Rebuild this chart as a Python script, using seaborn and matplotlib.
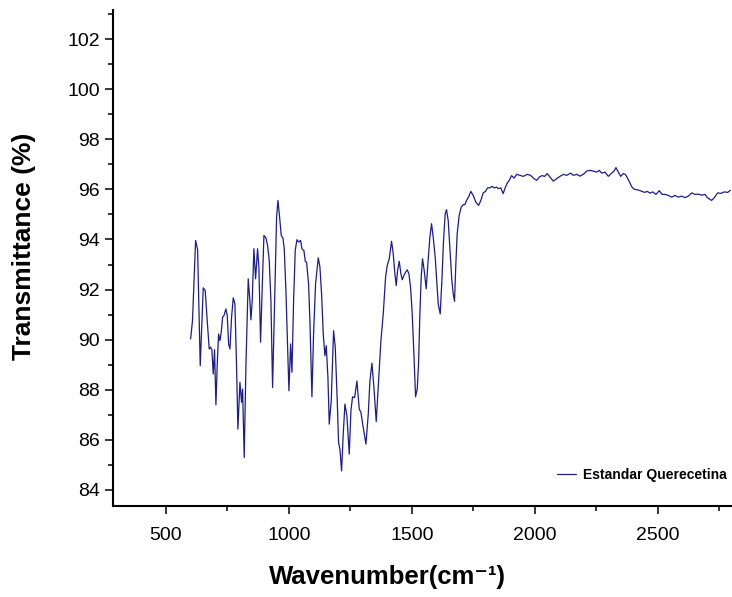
import matplotlib
matplotlib.use("Agg")
import matplotlib.pyplot as plt
import seaborn as sns
import pandas as pd
from matplotlib.ticker import MultipleLocator

# FTIR spectrum of the quercetin standard
wavenumber = [
    600.4, 608, 620.7, 628.8, 639.5, 651.7, 659.8, 667.9, 676, 681.4, 686.8, 692.3, 697.7,
    703.3, 708.7, 714.1, 719.5, 724.9, 730.4, 735.8, 743.9, 749.3, 754.8, 760.2, 766.9,
    773.7, 780.5, 787.2, 792.6, 800.8, 807.5, 811.6, 818.3, 825.1, 834.6, 841.3, 845.4,
    850.8, 857.6, 864.4, 872.5, 877.9, 884.7, 891.5, 898.4, 906.5, 913.3, 920, 926.8,
    933.6, 941.8, 949.9, 955.3, 962, 968.8, 975.6, 981, 987.8, 993.2, 1000, 1006.8,
    1012.2, 1019, 1025.7, 1032.5, 1039.3, 1047.4, 1052.8, 1060.9, 1066.4, 1071.8, 1079.9,
    1085.3, 1093.5, 1100.2, 1108.3, 1119.2, 1126, 1132.7, 1139.5, 1146.3, 1151.7, 1158.5,
    1163.9, 1172, 1181.5, 1188.3, 1196.4, 1201.8, 1207.3, 1214, 1220.8, 1227.6, 1235.7,
    1245.2, 1252, 1258.7, 1266.9, 1276.4, 1285.9, 1292.6, 1302.1, 1313, 1322.5, 1329.3,
    1337.4, 1345.5, 1354.9, 1364.4, 1373.9, 1383.4, 1392.9, 1399.6, 1407.7, 1417.2, 1424,
    1430.7, 1436.2, 1441.6, 1448.4, 1455.1, 1460.6, 1467.3, 1474.1, 1480.9, 1487.7, 1494.4,
    1501.2, 1508, 1514.7, 1521.5, 1526.9, 1532.3, 1537.7, 1543.1, 1549.9, 1558, 1564.8,
    1572.9, 1579.7, 1586.5, 1594.6, 1600, 1606.8, 1614.9, 1621.7, 1628.5, 1635.2, 1640.6,
    1647.4, 1654.2, 1662.3, 1667.7, 1673.1, 1678.5, 1683.9, 1692, 1700.2, 1708.3, 1715.1,
    1721.8, 1730, 1739.5, 1748.9, 1759.8, 1770.7, 1780.2, 1789.6, 1799.1, 1807.2, 1816.7,
    1826.2, 1834.3, 1843.8, 1851.9, 1861.4, 1870.9, 1879, 1887.1, 1895.3, 1905, 1915, 1926,
    1939, 1952.6, 1968.9, 1982.5, 1996, 2006.9, 2017.7, 2028.6, 2039.4, 2050, 2061.1,
    2074.7, 2088.3, 2101.8, 2115.4, 2128.9, 2145.2, 2156, 2169.6, 2183.1, 2196.7, 2210.2,
    2223.8, 2237.3, 2250.9, 2261.7, 2271.2, 2284.7, 2298.3, 2311.8, 2321.3, 2329.4, 2338.9,
    2348.4, 2359.2, 2367.3, 2375.5, 2383.6, 2393.1, 2402.6, 2413.4, 2424.3, 2435.1, 2446,
    2456.8, 2467.6, 2478.5, 2492, 2505.6, 2516.4, 2528.6, 2542.2, 2555.7, 2569.3, 2582.8,
    2596.4, 2609.9, 2623.5, 2637, 2650.6, 2664.1, 2677.7, 2691.2, 2700.7, 2718.3, 2729.1,
    2742.7, 2756.3, 2769.8, 2783.4, 2794.2,
]
transmittance = [
    90.03, 90.76, 93.96, 93.6, 88.96, 92.07, 91.96, 90.76, 89.63, 89.7, 89.6, 88.63, 89.6,
    87.4, 89.03, 90.23, 89.96, 90.3, 90.9, 90.96, 91.23, 90.96, 89.83, 89.63, 90.9,
    91.67, 91.43, 88.9, 86.43, 88.3, 87.5, 88.03, 85.3, 88.9, 92.43, 91.56, 90.79,
    91.56, 93.63, 92.43, 93.63, 92.9, 89.9, 92.1, 94.16, 94.06, 93.76, 93.16, 91.56,
    88.09, 91.56, 94.9, 95.56, 94.9, 94.16, 94.06, 93.63, 91.96, 90.23, 87.96, 89.83,
    88.7, 91.56, 93.56, 93.99, 93.9, 93.96, 93.63, 93.56, 93.13, 93.09, 92.23,
    90.76, 87.72, 90.23, 92.23, 93.27, 92.9, 91.83, 90.23, 89.36, 89.76, 88.49,
    86.63, 87.56, 90.36, 89.7, 87.56, 85.89, 85.63, 84.76, 86.23, 87.43, 86.96,
    85.43, 87.16, 87.72, 87.69, 88.35, 87.23, 87.1, 86.49, 85.83, 87.03, 88.36,
    89.06, 88.1, 86.73, 88.36, 89.96, 91.03, 92.5, 92.96, 93.23, 93.93, 93.43,
    92.63, 92.16, 92.76, 93.13, 92.63, 92.39, 92.56, 92.69, 92.79, 92.63, 92.09,
    91.03, 89.43, 87.72, 88.03, 89.03, 91.03, 92.49, 93.23, 92.76, 92.03, 93.03,
    94.09, 94.63, 94.09, 93.29, 92.49, 91.43, 91.03, 92.36, 93.96, 95.03, 95.19,
    94.76, 93.69, 92.36, 91.83, 91.53, 93.03, 94.23, 94.96, 95.29, 95.39, 95.39,
    95.56, 95.69, 95.92, 95.76, 95.49, 95.36, 95.56, 95.86, 95.92, 96.06, 96.06,
    96.12, 96.06, 96.09, 96.03, 96.06, 95.83, 96.06, 96.25, 96.36, 96.55, 96.45, 96.6,
    96.56, 96.52, 96.6, 96.56, 96.43, 96.36, 96.49, 96.55, 96.52, 96.63, 96.49,
    96.33, 96.43, 96.52, 96.6, 96.56, 96.65, 96.56, 96.6, 96.53, 96.6, 96.73,
    96.76, 96.73, 96.69, 96.76, 96.65, 96.69, 96.52, 96.65, 96.73, 96.87, 96.69,
    96.52, 96.63, 96.6, 96.47, 96.31, 96.11, 96.01, 95.99, 95.96, 95.92, 95.88,
    95.92, 95.85, 95.9, 95.8, 95.95, 95.8, 95.8, 95.76, 95.69, 95.76, 95.69,
    95.73, 95.67, 95.73, 95.86, 95.8, 95.81, 95.77, 95.8, 95.67, 95.56, 95.67,
    95.86, 95.84, 95.9, 95.88, 95.96,
]
series_name = "Estandar Querecetina"

df = pd.DataFrame({"Wavenumber": wavenumber, "Transmittance": transmittance,
                   "Sample": series_name})

sns.set_theme(style="ticks")
plt.rcParams["font.family"] = ["Liberation Sans", "DejaVu Sans"]
plt.rcParams.update({"text.color": "black", "axes.labelcolor": "black",
                     "xtick.color": "black", "ytick.color": "black"})

fig = plt.figure(figsize=(7.32, 5.97), dpi=100)
ax = fig.add_axes([0.1544, 0.1524, 0.8456, 0.8308])

sns.lineplot(data=df, x="Wavenumber", y="Transmittance", hue="Sample",
             palette=["#1c1c8c"], sort=False, estimator=None, lw=0.9, ax=ax)

ax.set_xlim(285, 2801)
ax.set_ylim(83.36, 103.16)
ax.xaxis.set_major_locator(MultipleLocator(500))
ax.xaxis.set_minor_locator(MultipleLocator(250))
ax.yaxis.set_major_locator(MultipleLocator(2))
ax.yaxis.set_minor_locator(MultipleLocator(1))

for side in ("top", "right"):
    ax.spines[side].set_visible(False)
for side in ("left", "bottom"):
    ax.spines[side].set_linewidth(1.5)
    ax.spines[side].set_color("black")

ax.tick_params(which="major", length=6, width=1.1, labelsize=14, colors="black",
               direction="out")
ax.tick_params(which="minor", length=3.5, width=1.1, direction="out", colors="black")
ax.tick_params(axis="x", which="major", pad=9)

ax.set_xlabel("Wavenumber(cm\u207b\u00b9)", fontsize=18.5, fontweight="bold",
              ha="center", va="center")
ax.xaxis.set_label_coords(0.444, -0.143)
ax.set_ylabel("Transmittance (%)", fontsize=19, fontweight="bold",
              ha="center", va="center")
ax.yaxis.set_label_coords(-0.144, 0.524)

leg = ax.legend(loc="center right", bbox_to_anchor=(1.0, 0.0625), frameon=False,
                borderaxespad=0, handlelength=1.4, handletextpad=0.45,
                prop={"size": 10, "weight": "bold"})

fig.savefig("out.png", dpi=100)
